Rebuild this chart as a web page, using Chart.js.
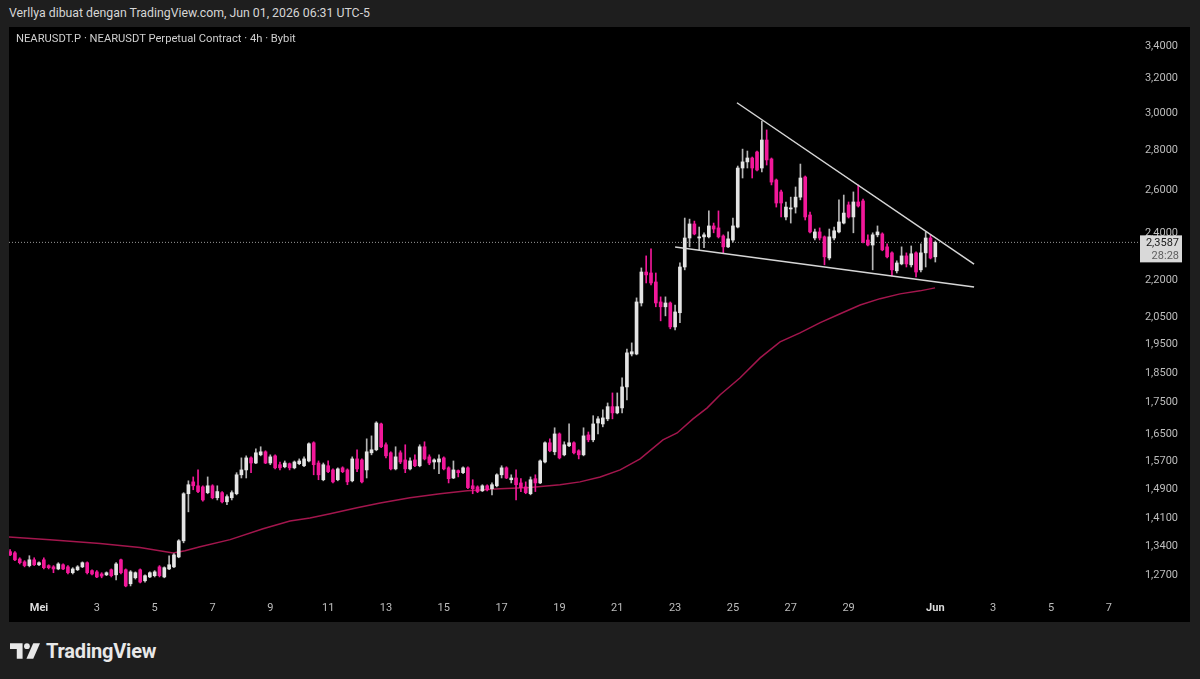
<!DOCTYPE html>
<html>
<head>
<meta charset="utf-8">
<script src="https://cdn.jsdelivr.net/npm/chart.js@4.4.1/dist/chart.umd.min.js"></script>
<style>
  html, body { margin: 0; padding: 0; background: #1e1e1e; }
  body { width: 1200px; height: 679px; position: relative; overflow: hidden; font-family: Roboto, "Noto Sans", sans-serif; }
  #credit { position: absolute; left: 9px; top: 6px; font-size: 12.3px; line-height: 15px; color: #d6d6d6; }
  #panel { position: absolute; left: 9px; top: 27px; width: 1181px; height: 595px; background: #000; }
  #wrap { position: relative; width: 1181px; height: 595px; }
  #symbol { position: absolute; left: 7px; top: 5px; font-size: 11.2px; line-height: 14px; color: #cfcfcf; z-index: 2; }
  #logo { position: absolute; left: 10px; top: 639px; display: flex; align-items: center; gap: 6px; color: #e8e8e8; font-weight: 700; font-size: 20px; letter-spacing: -0.2px; }
</style>
</head>
<body>
<div id="credit">Verllya dibuat dengan TradingView.com, Jun 01, 2026 06:31 UTC-5</div>
<div id="panel">
  <div id="symbol">NEARUSDT.P · NEARUSDT Perpetual Contract · 4h · Bybit</div>
  <div id="wrap"><canvas id="chart"></canvas></div>
</div>
<div id="logo">
  <svg width="30" height="16" viewBox="0 0 31 16"><path d="M0 0H13V16H7V6H0Z" fill="#e8e8e8"/><circle cx="17.5" cy="3" r="3" fill="#e8e8e8"/><path d="M24 0H31L24 16H17Z" fill="#e8e8e8"/></svg>
  <span>TradingView</span>
</div>
<script>
// days counted from 1 May (Mei), 4h bars
const dayTicks = [0, 2, 4, 6, 8, 10, 12, 14, 16, 18, 20, 22, 24, 26, 28, 31, 33, 35, 37];
const dayLabels = ['Mei', '3', '5', '7', '9', '11', '13', '15', '17', '19', '21', '23', '25', '27', '29', 'Jun', '3', '5', '7'];
const priceTicks = [1.27, 1.34, 1.41, 1.49, 1.57, 1.65, 1.75, 1.85, 1.95, 2.05, 2.2, 2.4, 2.6, 2.8, 3.0, 3.2, 3.4];

const firstCandleDay = -1;
const candleStep = 1 / 6;
// [open, high, low, close]
const candles = [
  [1.326,1.331,1.316,1.318],[1.323,1.326,1.304,1.306],[1.308,1.311,1.296,1.299],[1.301,1.304,1.289,1.292],[1.292,1.316,1.289,1.306],
  [1.306,1.311,1.292,1.294],[1.294,1.301,1.292,1.299],[1.306,1.311,1.284,1.287],[1.292,1.294,1.284,1.287],[1.289,1.292,1.275,1.284],
  [1.284,1.299,1.282,1.296],[1.294,1.296,1.282,1.284],[1.289,1.292,1.272,1.275],[1.275,1.287,1.272,1.284],[1.282,1.292,1.280,1.289],
  [1.289,1.301,1.287,1.299],[1.299,1.301,1.272,1.275],[1.280,1.282,1.270,1.272],[1.277,1.280,1.263,1.265],[1.272,1.275,1.263,1.267],
  [1.270,1.277,1.268,1.275],[1.282,1.284,1.265,1.268],[1.270,1.299,1.258,1.296],[1.306,1.308,1.272,1.275],[1.282,1.284,1.242,1.244],
  [1.249,1.280,1.244,1.277],[1.263,1.277,1.260,1.275],[1.282,1.284,1.251,1.253],[1.256,1.270,1.253,1.268],[1.265,1.277,1.263,1.275],
  [1.268,1.280,1.265,1.277],[1.289,1.292,1.265,1.268],[1.265,1.289,1.263,1.287],[1.284,1.316,1.282,1.294],[1.289,1.321,1.287,1.318],
  [1.313,1.356,1.311,1.353],[1.353,1.480,1.348,1.477],[1.477,1.513,1.428,1.502],[1.510,1.524,1.488,1.499],[1.499,1.544,1.480,1.483],
  [1.496,1.499,1.457,1.460],[1.480,1.524,1.477,1.499],[1.499,1.502,1.463,1.466],[1.466,1.499,1.460,1.483],[1.480,1.483,1.452,1.455],
  [1.455,1.474,1.447,1.469],[1.466,1.485,1.460,1.480],[1.477,1.536,1.474,1.530],[1.530,1.579,1.521,1.544],[1.544,1.585,1.521,1.579],
  [1.579,1.582,1.536,1.564],[1.564,1.606,1.562,1.594],[1.588,1.612,1.585,1.597],[1.597,1.600,1.562,1.564],[1.564,1.588,1.559,1.582],
  [1.585,1.588,1.547,1.550],[1.559,1.567,1.544,1.550],[1.553,1.570,1.550,1.564],[1.562,1.564,1.544,1.550],[1.550,1.570,1.547,1.567],
  [1.562,1.576,1.559,1.570],[1.556,1.582,1.553,1.576],[1.570,1.624,1.567,1.621],[1.624,1.627,1.530,1.559],[1.564,1.570,1.516,1.530],
  [1.516,1.564,1.513,1.559],[1.556,1.570,1.536,1.539],[1.544,1.547,1.507,1.510],[1.516,1.550,1.513,1.547],[1.550,1.553,1.536,1.539],
  [1.544,1.547,1.502,1.510],[1.513,1.582,1.510,1.576],[1.576,1.603,1.539,1.547],[1.573,1.576,1.507,1.510],[1.544,1.636,1.521,1.597],
  [1.594,1.645,1.588,1.603],[1.603,1.689,1.600,1.685],[1.682,1.685,1.609,1.612],[1.618,1.624,1.579,1.585],[1.594,1.597,1.544,1.547],
  [1.547,1.612,1.544,1.582],[1.594,1.600,1.562,1.567],[1.573,1.618,1.536,1.547],[1.547,1.579,1.544,1.570],[1.573,1.588,1.553,1.556],
  [1.556,1.618,1.553,1.612],[1.612,1.627,1.573,1.576],[1.582,1.588,1.559,1.564],[1.567,1.576,1.547,1.573],[1.567,1.588,1.533,1.576],
  [1.579,1.582,1.544,1.547],[1.550,1.553,1.507,1.519],[1.521,1.570,1.519,1.544],[1.542,1.544,1.524,1.536],[1.536,1.553,1.533,1.550],
  [1.550,1.553,1.491,1.494],[1.499,1.516,1.477,1.491],[1.496,1.499,1.480,1.483],[1.485,1.502,1.483,1.499],[1.499,1.502,1.485,1.488],
  [1.491,1.507,1.474,1.502],[1.499,1.533,1.496,1.530],[1.530,1.556,1.521,1.550],[1.550,1.553,1.519,1.521],[1.516,1.530,1.507,1.521],
  [1.521,1.544,1.460,1.502],[1.507,1.519,1.483,1.494],[1.496,1.510,1.477,1.480],[1.477,1.524,1.474,1.516],[1.519,1.530,1.483,1.507],
  [1.507,1.573,1.505,1.570],[1.567,1.627,1.564,1.624],[1.624,1.636,1.597,1.600],[1.597,1.670,1.588,1.651],[1.651,1.654,1.576,1.579],
  [1.588,1.627,1.585,1.618],[1.615,1.682,1.612,1.624],[1.624,1.627,1.591,1.594],[1.600,1.603,1.576,1.588],[1.588,1.670,1.585,1.645],
  [1.648,1.657,1.627,1.633],[1.633,1.708,1.627,1.682],[1.685,1.705,1.651,1.698],[1.682,1.727,1.673,1.701],[1.698,1.749,1.692,1.737],
  [1.737,1.782,1.698,1.717],[1.717,1.782,1.714,1.737],[1.733,1.833,1.717,1.802],[1.802,1.934,1.759,1.920],[1.916,1.956,1.909,1.924],
  [1.916,2.127,1.913,2.111],[2.107,2.249,2.095,2.232],[2.232,2.300,2.187,2.220],[2.228,2.330,2.179,2.187],[2.191,2.228,2.092,2.107],
  [2.111,2.131,2.038,2.092],[2.092,2.131,2.057,2.107],[2.107,2.111,2.008,2.015],[2.015,2.099,2.004,2.072],[2.069,2.270,2.031,2.253],
  [2.253,2.468,2.241,2.378],[2.378,2.463,2.339,2.441],[2.441,2.454,2.392,2.396],[2.378,2.427,2.326,2.383],[2.383,2.401,2.335,2.392],
  [2.383,2.501,2.378,2.432],[2.432,2.445,2.401,2.418],[2.423,2.501,2.378,2.383],[2.387,2.392,2.313,2.339],[2.339,2.405,2.335,2.374],
  [2.369,2.468,2.360,2.432],[2.427,2.719,2.423,2.709],[2.709,2.806,2.659,2.740],[2.740,2.796,2.709,2.760],[2.760,2.765,2.659,2.709],
  [2.791,2.796,2.694,2.699],[2.709,2.957,2.689,2.854],[2.854,2.908,2.724,2.750],[2.755,2.760,2.625,2.639],[2.649,2.654,2.519,2.538],
  [2.591,2.600,2.473,2.538],[2.473,2.543,2.459,2.519],[2.510,2.566,2.445,2.515],[2.519,2.615,2.491,2.566],[2.566,2.729,2.553,2.659],
  [2.664,2.669,2.459,2.473],[2.482,2.496,2.401,2.405],[2.378,2.418,2.369,2.405],[2.405,2.423,2.369,2.378],[2.383,2.387,2.262,2.296],
  [2.291,2.418,2.283,2.383],[2.378,2.427,2.369,2.410],[2.405,2.553,2.401,2.450],[2.445,2.576,2.441,2.491],[2.529,2.543,2.468,2.473],
  [2.473,2.591,2.401,2.543],[2.543,2.625,2.519,2.524],[2.548,2.557,2.356,2.360],[2.369,2.392,2.343,2.347],[2.347,2.401,2.241,2.392],
  [2.392,2.432,2.383,2.405],[2.396,2.401,2.322,2.326],[2.339,2.352,2.291,2.296],[2.313,2.317,2.216,2.241],[2.237,2.279,2.228,2.270],
  [2.266,2.339,2.262,2.300],[2.300,2.313,2.253,2.266],[2.262,2.343,2.253,2.309],[2.313,2.317,2.212,2.232],[2.241,2.352,2.232,2.313],
  [2.313,2.405,2.253,2.378],[2.378,2.392,2.287,2.291],[2.296,2.365,2.274,2.3587]
];

// moving average
const maDays = [-1.04, 0.38, 2.11, 3.49, 4.64, 5.05, 5.57, 6.61, 7.75, 8.68, 9.37, 10.07, 11.0, 11.8, 12.83, 13.87, 14.81, 15.95, 16.98, 18.02, 18.71, 19.41, 20.1, 20.79, 21.58, 22.07, 22.62, 23.11, 23.56, 24.25, 24.94, 25.63, 26.32, 27.02, 27.71, 28.4, 29.09, 29.78, 30.47, 30.99];
const maValues = [1.363, 1.356, 1.346, 1.336, 1.323, 1.328, 1.338, 1.356, 1.384, 1.404, 1.412, 1.423, 1.439, 1.452, 1.466, 1.477, 1.485, 1.491, 1.494, 1.502, 1.510, 1.524, 1.544, 1.576, 1.633, 1.654, 1.698, 1.733, 1.776, 1.833, 1.902, 1.960, 1.993, 2.031, 2.065, 2.099, 2.124, 2.143, 2.155, 2.167];

// drawn trend lines (wedge)
const upperLineDays = [24.14, 32.34];
const upperLineValues = [3.059, 2.265];
const lowerLineDays = [22.0, 32.34];
const lowerLineValues = [2.338, 2.171];

const lastPrice = 2.3587;
const countdown = '28:28';

const xMin = -1.038, xMax = 38.01;
const yMin = 1.2209, yMax = 3.5224;

const upColor = '#e4e4e4';
const upWick = '#b5b5b5';
const downColor = '#f2189a';

const candleDays = candles.map((_, i) => firstCandleDay + i * candleStep);
const isUp = candles.map(c => c[3] >= c[0]);

function noPadding(s) {
  s.paddingTop = 0;
  s.paddingBottom = 0;
  s.paddingLeft = 0;
  s.paddingRight = 0;
}

const priceTag = {
  id: 'priceTag',
  afterDatasetsDraw(chart) {
    const { ctx, chartArea, scales } = chart;
    const y = scales.y.getPixelForValue(lastPrice);
    const x0 = chartArea.right + 2, w = 42;
    ctx.save();
    ctx.fillStyle = '#d9d9d9';
    ctx.fillRect(x0, y - 7, w, 27);
    ctx.font = '11px Roboto';
    ctx.textAlign = 'right';
    ctx.textBaseline = 'middle';
    ctx.fillStyle = '#1a1a1a';
    ctx.fillText(lastPrice.toFixed(4).replace('.', ','), x0 + w - 3, y + 1);
    ctx.fillStyle = '#5e5e5e';
    ctx.fillText(countdown, x0 + w - 3, y + 14);
    ctx.restore();
  }
};

new Chart(document.getElementById('chart'), {
  type: 'bar',
  data: {
    datasets: [
      {
        type: 'line',
        data: maDays.map((d, i) => ({ x: d, y: maValues[i] })),
        borderColor: '#a3164d',
        borderWidth: 1.5,
        pointRadius: 0,
        tension: 0,
        order: 5
      },
      {
        type: 'line',
        data: [{ x: xMin, y: lastPrice }, { x: xMax, y: lastPrice }],
        borderColor: '#9a9a9a',
        borderWidth: 1,
        borderDash: [1, 2],
        pointRadius: 0,
        order: 4
      },
      {
        data: candles.map((c, i) => ({ x: candleDays[i], y: [c[2], c[1]] })),
        backgroundColor: isUp.map(u => u ? upWick : downColor),
        barThickness: 1,
        grouped: false,
        borderWidth: 0,
        order: 3
      },
      {
        data: candles.map((c, i) => ({ x: candleDays[i], y: [Math.min(c[0], c[3]), Math.max(c[0], c[3])] })),
        backgroundColor: isUp.map(u => u ? upColor : downColor),
        barThickness: 3,
        minBarLength: 1,
        grouped: false,
        borderWidth: 0,
        order: 2
      },
      {
        type: 'line',
        data: upperLineDays.map((d, i) => ({ x: d, y: upperLineValues[i] })),
        borderColor: '#d6d6d6',
        borderWidth: 1.5,
        pointRadius: 0,
        order: 0
      },
      {
        type: 'line',
        data: lowerLineDays.map((d, i) => ({ x: d, y: lowerLineValues[i] })),
        borderColor: '#d6d6d6',
        borderWidth: 1.5,
        pointRadius: 0,
        order: 0
      }
    ]
  },
  options: {
    responsive: true,
    maintainAspectRatio: false,
    animation: false,
    events: [],
    layout: { padding: { left: 0, right: 12, top: 0, bottom: 0 } },
    scales: {
      x: {
        type: 'linear',
        min: xMin,
        max: xMax,
        offset: false,
        grid: { display: false, drawTicks: false },
        border: { display: false },
        afterBuildTicks: s => { s.ticks = dayTicks.map(v => ({ value: v })); },
        afterFit: s => { s.height = 26; noPadding(s); },
        ticks: {
          autoSkip: false,
          maxRotation: 0,
          padding: 6,
          callback: (v, i) => dayLabels[i],
          color: ctx => (ctx.index === 0 || ctx.index === 15) ? '#dcdcdc' : '#bdbdbd',
          font: ctx => ({ family: 'Roboto', size: 11, weight: (ctx.index === 0 || ctx.index === 15) ? 'bold' : 'normal' })
        }
      },
      y: {
        type: 'logarithmic',
        position: 'right',
        min: yMin,
        max: yMax,
        grid: { display: false, drawTicks: false },
        border: { display: false },
        afterBuildTicks: s => { s.ticks = priceTicks.map(v => ({ value: v })); },
        afterFit: s => { s.width = 40; noPadding(s); },
        ticks: {
          autoSkip: false,
          crossAlign: 'far',
          padding: 0,
          color: '#bdbdbd',
          font: { family: 'Roboto', size: 11 },
          callback: v => Number(v).toFixed(4).replace('.', ',')
        }
      }
    },
    plugins: {
      legend: { display: false },
      tooltip: { enabled: false }
    }
  },
  plugins: [priceTag]
});
</script>
</body>
</html>
